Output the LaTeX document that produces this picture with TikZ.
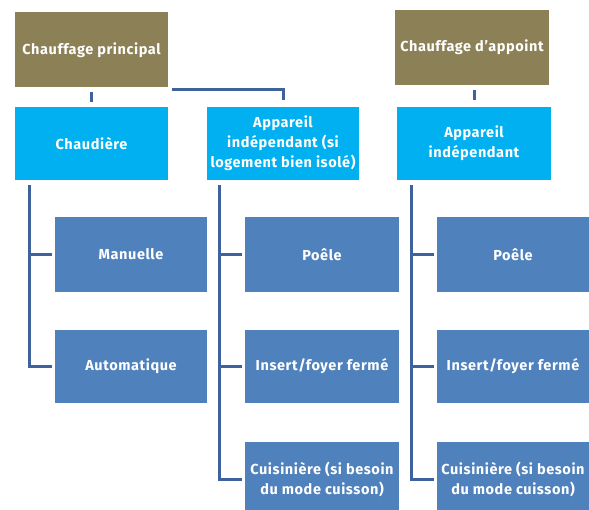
\documentclass[tikz,border=0pt]{standalone}
\usepackage{fontspec}
\setmainfont{Fira Sans}[LetterSpace=4]
\usepackage{tikz}

\definecolor{olive}{RGB}{140,128,86}
\definecolor{cyanbox}{RGB}{0,176,240}
\definecolor{bluebox}{RGB}{79,129,189}
\definecolor{linkcol}{RGB}{62,98,156}

\tikzset{
  box/.style={minimum width=152pt, minimum height=75pt, inner sep=1pt,
    text=white, align=center, font=\fontsize{14.5}{20}\selectfont\bfseries},
  headbox/.style={box, fill=olive},
  mainbox/.style={box, fill=cyanbox, minimum height=73pt},
  subbox/.style={box, fill=bluebox},
  link/.style={draw=linkcol, line width=3pt}
}

\begin{document}
\begin{tikzpicture}[x=1pt, y=-1pt]

    \useasboundingbox (0,0) rectangle (589,510);
    \clip (0,0) rectangle (589,510);

    \node[headbox, minimum width=153pt] (princ) at (91.5, 50) {Chauffage principal};
    \node[headbox, minimum width=154pt] (appoint) at (472, 47.5) {Chauffage d'appoint};

    \node[mainbox, minimum width=153pt] (chaud) at (91.5, 143.5) {Chaudière};
    \node[mainbox] (appsi) at (283, 143.5) {Appareil\\indépendant (si\\logement bien isolé)};
    \node[mainbox, minimum width=154pt] (appind) at (474, 143.5) {Appareil\\indépendant};

    \node[subbox] (man) at (131, 254.5) {Manuelle};
    \node[subbox, minimum height=73pt] (auto) at (131, 366.5) {Automatique};

    \node[subbox, minimum width=154pt] (poele1) at (322, 254.5) {Poêle};
    \node[subbox, minimum width=154pt, minimum height=73pt] (insert1) at (322, 366.5) {Insert/foyer fermé};
    \node[subbox, minimum width=154pt] (cuis1) at (322, 479.5) {Cuisinière (si besoin\\du mode cuisson)};

    \node[subbox] (poele2) at (513, 254.5) {Poêle};
    \node[subbox, minimum height=73pt] (insert2) at (513, 366.5) {Insert/foyer fermé};
    \node[subbox] (cuis2) at (513, 479.5) {Cuisinière (si besoin\\du mode cuisson)};

    % top links
    \draw[link] ([yshift=-4pt]princ.south) -- ([yshift=5pt]chaud.north);
    \draw[link] ([xshift=4pt,yshift=-1.5pt]princ.south east) -| ([yshift=7pt]appsi.north);
    \draw[link] ([yshift=-5pt]appind.north |- appoint.south) -- ([yshift=7pt]appind.north);

    % trunks
    \coordinate (t1) at ([xshift=15pt,yshift=-5pt]chaud.south west);
    \coordinate (t2) at ([xshift=13pt,yshift=-5pt]appsi.south west);
    \coordinate (t3) at ([xshift=15pt,yshift=-5pt]appind.south west);

    \draw[link, shorten >=3pt] (t1) |- (auto.west);
    \draw[link, shorten >=3pt] (t1 |- man.west) -- (man.west);

    \draw[link, shorten >=3pt] (t2) |- (cuis1.west);
    \foreach \n in {poele1, insert1}
      \draw[link, shorten >=3pt] (t2 |- \n.west) -- (\n.west);

    \draw[link, shorten >=3pt] (t3) |- (cuis2.west);
    \foreach \n in {poele2, insert2}
      \draw[link, shorten >=3pt] (t3 |- \n.west) -- (\n.west);

\end{tikzpicture}
\end{document}
